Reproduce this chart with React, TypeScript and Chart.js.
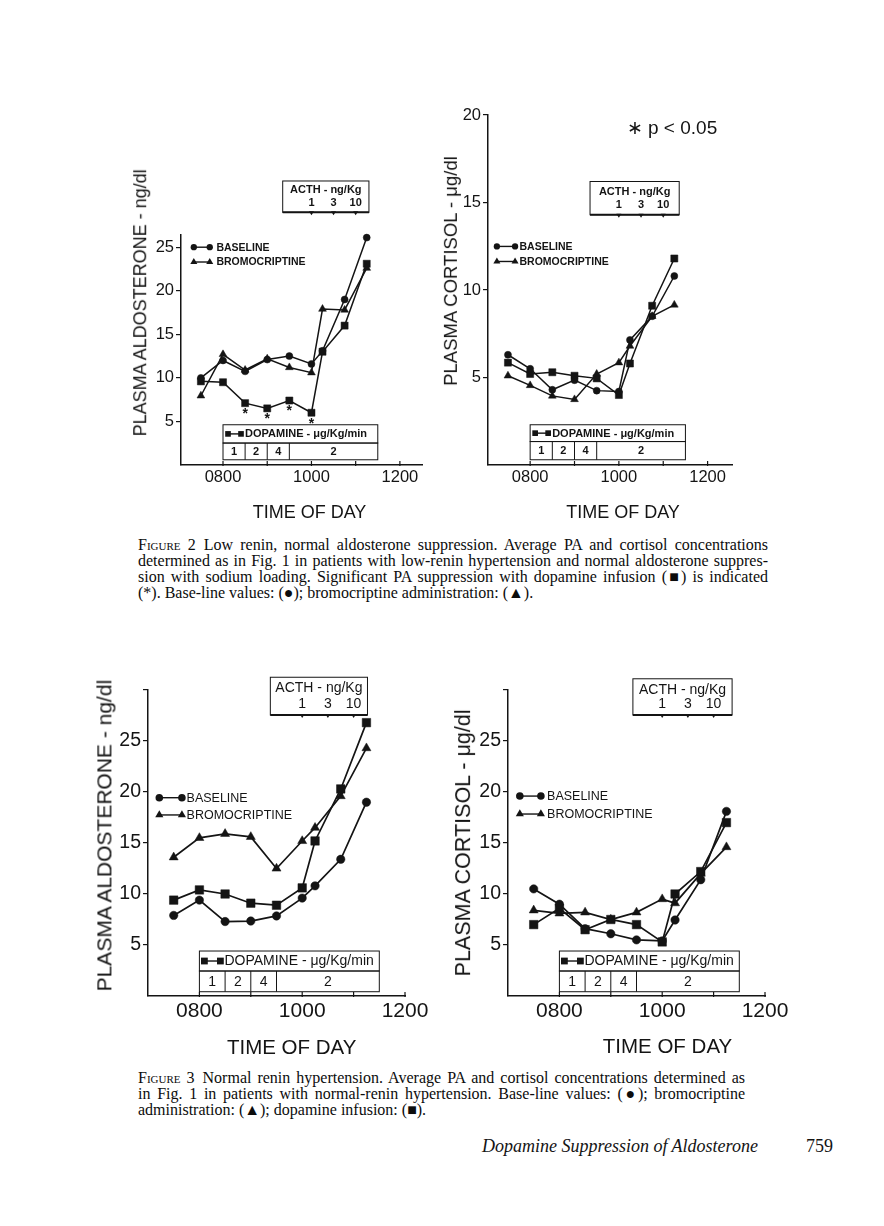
import React, { useEffect, useRef } from 'react';
import { Chart, registerables } from 'chart.js';

Chart.register(...registerables);

// ---------------- DATA ----------------
const TIMES = [7.5, 8, 8.5, 9, 9.5, 10, 10.25, 10.75, 11.25];
const X_TICKS = [7, 8, 9, 10, 11, 12];
const X_LABELS: Record<string, string> = { '8': '0800', '10': '1000', '12': '1200' };
const ACTH_TIMES = [10, 10.5, 11];
const ACTH_DOSES = ['1', '3', '10'];
const DOPA_EDGES = [8, 8.5, 9, 9.5, 11.5];
const DOPA_DOSES = ['1', '2', '4', '2'];
const SIG_TIMES = [8.5, 9, 9.5, 10];

// Figure 2 – aldosterone (ng/dl)
const F2_ALDO_BASELINE = [10.0, 12.0, 10.75, 12.1, 12.5, 11.6, 13.1, 19.0, 26.1];
const F2_ALDO_BROMO = [7.95, 12.7, 10.9, 12.2, 11.2, 10.6, 17.9, 17.8, 22.6];
const F2_ALDO_DOPA = [9.6, 9.5, 7.1, 6.5, 7.4, 6.0, 13.0, 16.0, 23.1];

// Figure 2 – cortisol (µg/dl)
const F2_CORT_BASELINE = [6.3, 5.5, 4.3, 4.85, 4.25, 4.2, 7.15, 8.5, 10.8];
const F2_CORT_BROMO = [5.1, 4.55, 3.95, 3.75, 5.2, 5.85, 6.8, 8.5, 9.15];
const F2_CORT_DOPA = [5.85, 5.2, 5.3, 5.1, 4.95, 4.0, 5.8, 9.1, 11.8];

// Figure 3 – aldosterone (ng/dl)
const F3_ALDO_BASELINE = [7.9, 9.4, 7.3, 7.35, 7.85, 9.6, 10.8, 13.4, 19.0];
const F3_ALDO_BROMO = [13.6, 15.5, 15.9, 15.6, 12.5, 15.2, 16.5, 19.6, 24.3];
const F3_ALDO_DOPA = [9.4, 10.4, 10.0, 9.1, 8.9, 10.6, 15.2, 20.3, 26.8];

// Figure 3 – cortisol (µg/dl)
const F3_CORT_BASELINE = [10.5, 9.0, 6.6, 6.1, 5.5, 5.4, 7.45, 11.4, 18.1];
const F3_CORT_BROMO = [8.4, 8.1, 8.2, 7.5, 8.2, 9.5, 9.1, 12.0, 14.6];
const F3_CORT_DOPA = [7.0, 8.6, 6.5, 7.5, 7.0, 5.3, 10.0, 12.2, 17.0];

// ---------------- STYLE / LAYOUT ----------------
const INK = '#141414';
const SANS = '"Liberation Sans", Arial, Helvetica, sans-serif';
const SERIF = '"Liberation Serif", "Times New Roman", Times, serif';

type Style = 'circle' | 'triangle' | 'rect';

interface Spec {
  box: { left: number; top: number; width: number; height: number };
  pad: { top: number; right: number };
  yW: number;
  xH: number;
  xMin: number;
  xMax: number;
  yMax: number;
  yTicks: number[];
  yLabels: number[];
  baseline: number[];
  bromo: number[];
  dopa: number[];
  xFont: number;
  yFont: number;
  lineW: number;
  r: { circle: number; triangle: number; rect: number };
  smallFont: string;
  legendFont: string;
  acth: { x0: number; x1: number; yTop: number; yBot: number };
  dopaBox: { yTop: number; yMid: number; yBot: number };
  legend: { x0: number; x1: number; tx: number; y: [number, number] };
  symGap: number;
  stars?: boolean;
}

const TOP_COMMON = {
  yW: 31,
  xH: 30,
  xFont: 16.5,
  yFont: 16.5,
  lineW: 1.5,
  r: { circle: 3.5, triangle: 4.5, rect: 5 },
  smallFont: `bold 11px ${SANS}`,
  legendFont: `bold 10.5px ${SANS}`,
  symGap: 13,
};

const BOT_COMMON = {
  yW: 38,
  xH: 39,
  xFont: 21,
  yFont: 19.5,
  lineW: 1.7,
  r: { circle: 4.2, triangle: 5.2, rect: 6 },
  smallFont: `14px ${SANS}`,
  legendFont: `12.5px ${SANS}`,
  symGap: 16,
};

const SPEC_F2_ALDO: Spec = {
  ...TOP_COMMON,
  box: { left: 150, top: 170, width: 290, height: 325 },
  pad: { top: 65, right: 18 },
  xMin: 7.05,
  xMax: 12.5,
  yMax: 26.4,
  yTicks: [0, 5, 10, 15, 20, 25],
  yLabels: [5, 10, 15, 20, 25],
  baseline: F2_ALDO_BASELINE,
  bromo: F2_ALDO_BROMO,
  dopa: F2_ALDO_DOPA,
  acth: { x0: 9.35, x1: 11.3, yTop: 32.6, yBot: 29.0 },
  dopaBox: { yTop: 4.62, yMid: 2.52, yBot: 0.6 },
  legend: { x0: 7.34, x1: 7.7, tx: 7.85, y: [25.0, 23.3] },
  stars: true,
};

const SPEC_F2_CORT: Spec = {
  ...TOP_COMMON,
  yW: 30,
  box: { left: 458, top: 105, width: 292, height: 390 },
  pad: { top: 10, right: 18 },
  xMin: 7.05,
  xMax: 12.55,
  yMax: 20,
  yTicks: [0, 5, 10, 15, 20],
  yLabels: [5, 10, 15, 20],
  baseline: F2_CORT_BASELINE,
  bromo: F2_CORT_BROMO,
  dopa: F2_CORT_DOPA,
  acth: { x0: 9.35, x1: 11.36, yTop: 16.2, yBot: 14.3 },
  dopaBox: { yTop: 2.3, yMid: 1.34, yBot: 0.3 },
  legend: { x0: 7.25, x1: 7.66, tx: 7.76, y: [12.49, 11.63] },
};

const SPEC_F3_ALDO: Spec = {
  ...BOT_COMMON,
  box: { left: 110, top: 670, width: 330, height: 365 },
  pad: { top: 20, right: 35 },
  xMin: 7,
  xMax: 12,
  yMax: 30,
  yTicks: [0, 5, 10, 15, 20, 25, 30],
  yLabels: [5, 10, 15, 20, 25],
  baseline: F3_ALDO_BASELINE,
  bromo: F3_ALDO_BROMO,
  dopa: F3_ALDO_DOPA,
  acth: { x0: 9.38, x1: 11.27, yTop: 31.25, yBot: 27.55 },
  dopaBox: { yTop: 4.41, yMid: 2.45, yBot: 0.42 },
  legend: { x0: 7.22, x1: 7.66, tx: 7.75, y: [19.44, 17.75] },
};

const SPEC_F3_CORT: Spec = {
  ...BOT_COMMON,
  box: { left: 470, top: 670, width: 325, height: 365 },
  pad: { top: 20, right: 30 },
  xMin: 7,
  xMax: 12,
  yMax: 30,
  yTicks: [0, 5, 10, 15, 20, 25, 30],
  yLabels: [5, 10, 15, 20, 25],
  baseline: F3_CORT_BASELINE,
  bromo: F3_CORT_BROMO,
  dopa: F3_CORT_DOPA,
  acth: { x0: 9.43, x1: 11.36, yTop: 31.1, yBot: 27.55 },
  dopaBox: { yTop: 4.41, yMid: 2.45, yBot: 0.42 },
  legend: { x0: 7.23, x1: 7.64, tx: 7.76, y: [19.6, 17.84] },
};

// ---------------- DRAW HELPERS ----------------
function marker(ctx: CanvasRenderingContext2D, style: Style, x: number, y: number, r: number) {
  ctx.beginPath();
  if (style === 'circle') {
    ctx.arc(x, y, r, 0, Math.PI * 2);
  } else if (style === 'rect') {
    const s = r * Math.SQRT1_2;
    ctx.rect(x - s, y - s, 2 * s, 2 * s);
  } else {
    const t = (2 * Math.PI) / 3;
    let a = 0;
    ctx.moveTo(x + Math.sin(a) * r, y - Math.cos(a) * r);
    a += t;
    ctx.lineTo(x + Math.sin(a) * r, y - Math.cos(a) * r);
    a += t;
    ctx.lineTo(x + Math.sin(a) * r, y - Math.cos(a) * r);
    ctx.closePath();
  }
  ctx.fill();
}

function symbol(ctx: CanvasRenderingContext2D, style: Style, x0: number, x1: number, y: number, r: number, lw: number) {
  ctx.lineWidth = lw;
  ctx.beginPath();
  ctx.moveTo(x0, y);
  ctx.lineTo(x1, y);
  ctx.stroke();
  marker(ctx, style, x0, y, r);
  marker(ctx, style, x1, y, r);
}

function drawAnnotations(chart: Chart, spec: Spec) {
  const ctx = chart.ctx;
  const xs = chart.scales.x;
  const ys = chart.scales.y;
  const X = (v: number) => xs.getPixelForValue(v);
  const Y = (v: number) => ys.getPixelForValue(v);
  ctx.save();
  ctx.strokeStyle = INK;
  ctx.fillStyle = INK;

  // x tick marks (pointing up into the plot)
  const bottom = chart.chartArea.bottom;
  ctx.lineWidth = 1.2;
  X_TICKS.forEach((t) => {
    if (t <= spec.xMin || t > spec.xMax) return;
    ctx.beginPath();
    ctx.moveTo(X(t), bottom + 1);
    ctx.lineTo(X(t), bottom - 4);
    ctx.stroke();
  });

  // ACTH box
  const a = spec.acth;
  const aL = X(a.x0), aR = X(a.x1), aT = Y(a.yTop), aB = Y(a.yBot);
  ctx.lineWidth = 1;
  ctx.strokeRect(aL, aT, aR - aL, aB - aT);
  ctx.lineWidth = 2;
  ctx.beginPath();
  ctx.moveTo(aL, aB);
  ctx.lineTo(aR, aB);
  ctx.stroke();
  ctx.font = spec.smallFont;
  ctx.textAlign = 'center';
  ctx.textBaseline = 'middle';
  ctx.fillText('ACTH - ng/Kg', (aL + aR) / 2, aT + (aB - aT) * 0.3);
  ACTH_TIMES.forEach((t, i) => {
    const px = X(t);
    ctx.fillText(ACTH_DOSES[i], px, aT + (aB - aT) * 0.7);
    ctx.beginPath();
    ctx.moveTo(px - 2.5, aB - 1);
    ctx.lineTo(px + 2.5, aB - 1);
    ctx.lineTo(px, aB + 3);
    ctx.closePath();
    ctx.fill();
  });

  // Dopamine box
  const d = spec.dopaBox;
  const dL = X(DOPA_EDGES[0]), dR = X(DOPA_EDGES[DOPA_EDGES.length - 1]);
  const dT = Y(d.yTop), dM = Y(d.yMid), dB = Y(d.yBot);
  ctx.fillStyle = '#ffffff';
  ctx.fillRect(dL, dT, dR - dL, dB - dT);
  ctx.fillStyle = INK;
  ctx.lineWidth = 1;
  ctx.strokeRect(dL, dT, dR - dL, dM - dT);
  ctx.strokeRect(dL, dM, dR - dL, dB - dM);
  DOPA_EDGES.slice(1, -1).forEach((t) => {
    ctx.beginPath();
    ctx.moveTo(X(t), dM);
    ctx.lineTo(X(t), dB);
    ctx.stroke();
  });
  const hy = (dT + dM) / 2;
  symbol(ctx, 'rect', dL + 5, dL + 5 + spec.symGap, hy, spec.r.rect * 0.8, 1.4);
  ctx.textAlign = 'left';
  ctx.fillText('DOPAMINE - \u03bcg/Kg/min', dL + 9 + spec.symGap, hy + 0.5);
  ctx.textAlign = 'center';
  DOPA_DOSES.forEach((lab, i) => {
    ctx.fillText(lab, (X(DOPA_EDGES[i]) + X(DOPA_EDGES[i + 1])) / 2, (dM + dB) / 2 + 0.5);
  });

  // legend
  const lg = spec.legend;
  const rows: [Style, string][] = [
    ['circle', 'BASELINE'],
    ['triangle', 'BROMOCRIPTINE'],
  ];
  ctx.font = spec.legendFont;
  ctx.textAlign = 'left';
  rows.forEach(([st, lab], i) => {
    const py = Y(lg.y[i]);
    const rr = st === 'circle' ? spec.r.circle * 0.9 : spec.r.triangle * 0.9;
    symbol(ctx, st, X(lg.x0), X(lg.x1), py, rr, 1.4);
    ctx.fillText(lab, X(lg.tx), py + 0.5);
  });

  // significance asterisks
  if (spec.stars) {
    ctx.font = `bold 14px ${SANS}`;
    ctx.textAlign = 'center';
    ctx.textBaseline = 'top';
    SIG_TIMES.forEach((t) => {
      const idx = TIMES.indexOf(t);
      ctx.fillText('*', X(t), Y(spec.dopa[idx]) + 4);
    });
  }
  ctx.restore();
}

function buildConfig(spec: Spec): any {
  const ds = (vals: number[], style: Style, r: number) => ({
    data: TIMES.map((t, i) => ({ x: t, y: vals[i] })),
    borderColor: INK,
    backgroundColor: INK,
    borderWidth: spec.lineW,
    pointStyle: style,
    pointRadius: r,
    pointBorderWidth: 0.5,
    pointBorderColor: INK,
    pointBackgroundColor: INK,
    tension: 0,
    clip: false,
  });
  return {
    type: 'line',
    data: {
      datasets: [
        ds(spec.baseline, 'circle', spec.r.circle),
        ds(spec.bromo, 'triangle', spec.r.triangle),
        ds(spec.dopa, 'rect', spec.r.rect),
      ],
    },
    options: {
      responsive: false,
      devicePixelRatio: 1,
      animation: false,
      events: [],
      layout: { padding: { left: 0, top: spec.pad.top, right: spec.pad.right, bottom: 0 } },
      plugins: { legend: { display: false }, tooltip: { enabled: false }, title: { display: false } },
      scales: {
        x: {
          type: 'linear',
          min: spec.xMin,
          max: spec.xMax,
          afterBuildTicks: (s: any) => {
            s.ticks = X_TICKS.filter((v) => v >= spec.xMin && v <= spec.xMax).map((v) => ({ value: v }));
          },
          afterFit: (s: any) => {
            s.height = spec.xH;
            s.paddingLeft = 0;
            s.paddingRight = 0;
          },
          ticks: {
            callback: (v: any) => X_LABELS[String(v)] ?? '',
            font: { family: SANS, size: spec.xFont },
            color: INK,
            padding: 3,
            maxRotation: 0,
            autoSkip: false,
          },
          grid: { display: true, drawOnChartArea: false, drawTicks: false },
          border: { display: true, color: INK, width: 1.5 },
        },
        y: {
          type: 'linear',
          min: 0,
          max: spec.yMax,
          afterBuildTicks: (s: any) => {
            s.ticks = spec.yTicks.map((v) => ({ value: v }));
          },
          afterFit: (s: any) => {
            s.width = spec.yW;
            s.paddingTop = 0;
            s.paddingBottom = 0;
          },
          ticks: {
            callback: (v: any) => (spec.yLabels.indexOf(Number(v)) >= 0 ? String(v) : ''),
            font: { family: SANS, size: spec.yFont },
            color: INK,
            padding: 2,
            autoSkip: false,
          },
          grid: {
            display: true,
            drawOnChartArea: false,
            drawTicks: true,
            tickLength: 5,
            lineWidth: 1.2,
            color: (c: any) => (c.tick && c.tick.value === 0 ? 'rgba(0,0,0,0)' : INK),
          },
          border: { display: true, color: INK, width: 1.5 },
        },
      },
    },
    plugins: [
      {
        id: 'annot',
        afterDatasetsDraw: (chart: Chart) => drawAnnotations(chart, spec),
      },
    ],
  };
}

function Plot({ spec }: { spec: Spec }) {
  const ref = useRef<HTMLCanvasElement | null>(null);
  useEffect(() => {
    if (!ref.current) return;
    const c = new Chart(ref.current, buildConfig(spec));
    return () => c.destroy();
  }, [spec]);
  const b = spec.box;
  return (
    <canvas
      ref={ref}
      width={b.width}
      height={b.height}
      style={{ position: 'absolute', left: b.left, top: b.top, width: b.width, height: b.height }}
    />
  );
}

function VTitle({ text, cx, cy, fs }: { text: string; cx: number; cy: number; fs: number }) {
  return (
    <div
      style={{
        position: 'absolute',
        left: cx - 200,
        top: cy - fs * 0.6,
        width: 400,
        height: fs * 1.2,
        lineHeight: `${fs * 1.2}px`,
        textAlign: 'center',
        transform: 'rotate(-90deg)',
        transformOrigin: '50% 50%',
        fontFamily: SANS,
        fontSize: fs,
        color: INK,
        whiteSpace: 'nowrap',
      }}
    >
      {text}
    </div>
  );
}

function HText({ text, cx, cy, fs, family = SANS, style }: { text: any; cx: number; cy: number; fs: number; family?: string; style?: any }) {
  return (
    <div
      style={{
        position: 'absolute',
        left: cx - 200,
        top: cy - fs * 0.6,
        width: 400,
        height: fs * 1.2,
        lineHeight: `${fs * 1.2}px`,
        textAlign: 'center',
        fontFamily: family,
        fontSize: fs,
        color: INK,
        whiteSpace: 'nowrap',
        ...style,
      }}
    >
      {text}
    </div>
  );
}

function Caption({ top, width, lines }: { top: number; width: number; lines: any[] }) {
  return (
    <div
      style={{
        position: 'absolute',
        left: 138,
        top,
        width,
        fontFamily: SERIF,
        fontSize: 16,
        lineHeight: '16px',
        color: '#0c0c0c',
      }}
    >
      {lines.map((l, i) => {
        const last = i === lines.length - 1;
        return (
          <div key={i} style={{ textAlign: last ? 'left' : 'justify', textAlignLast: last ? 'left' : 'justify' } as any}>
            {l}
          </div>
        );
      })}
    </div>
  );
}

const SC = (n: string) => (
  <span>
    F<span style={{ fontVariant: 'small-caps' }}>igure</span> {n}
    {'\u2002'}
  </span>
);

export default function App() {
  return (
    <div style={{ position: 'absolute', left: 0, top: 0, width: 884, height: 1226, background: '#fff', overflow: 'hidden' }}>
      <Plot spec={SPEC_F2_ALDO} />
      <Plot spec={SPEC_F2_CORT} />
      <Plot spec={SPEC_F3_ALDO} />
      <Plot spec={SPEC_F3_CORT} />

      <VTitle text="PLASMA ALDOSTERONE - ng/dl" cx={140.5} cy={302.5} fs={18} />
      <VTitle text={'PLASMA CORTISOL - \u03bcg/dl'} cx={450.5} cy={271} fs={18.5} />
      <VTitle text="PLASMA ALDOSTERONE - ng/dl" cx={104} cy={836} fs={21} />
      <VTitle text={'PLASMA CORTISOL - \u03bcg/dl'} cx={464} cy={843} fs={21.5} />

      <HText text="TIME OF DAY" cx={309.5} cy={513} fs={18} />
      <HText text="TIME OF DAY" cx={623} cy={513} fs={18} />
      <HText text="TIME OF DAY" cx={291.7} cy={1047.7} fs={20.5} />
      <HText text="TIME OF DAY" cx={667.5} cy={1046.7} fs={20.5} />

      <HText text={'\u2217 p < 0.05'} cx={672} cy={128} fs={19} />

      <Caption
        top={537}
        width={630}
        lines={[
          <span>{SC('2')}Low renin, normal aldosterone suppression. Average PA and cortisol concentrations</span>,
          'determined as in Fig. 1 in patients with low-renin hypertension and normal aldosterone suppres-',
          'sion with sodium loading. Significant PA suppression with dopamine infusion (\u25a0) is indicated',
          '(*). Base-line values: (\u25cf); bromocriptine administration: (\u25b2).',
        ]}
      />
      <Caption
        top={1070}
        width={607}
        lines={[
          <span>{SC('3')}Normal renin hypertension. Average PA and cortisol concentrations determined as</span>,
          'in Fig. 1 in patients with normal-renin hypertension. Base-line values: (\u25cf); bromocriptine',
          'administration: (\u25b2); dopamine infusion: (\u25a0).',
        ]}
      />

      <HText text="Dopamine Suppression of Aldosterone" cx={620} cy={1147} fs={18} family={SERIF} style={{ fontStyle: 'italic' }} />
      <HText text="759" cx={819.5} cy={1147} fs={18} family={SERIF} />
    </div>
  );
}
